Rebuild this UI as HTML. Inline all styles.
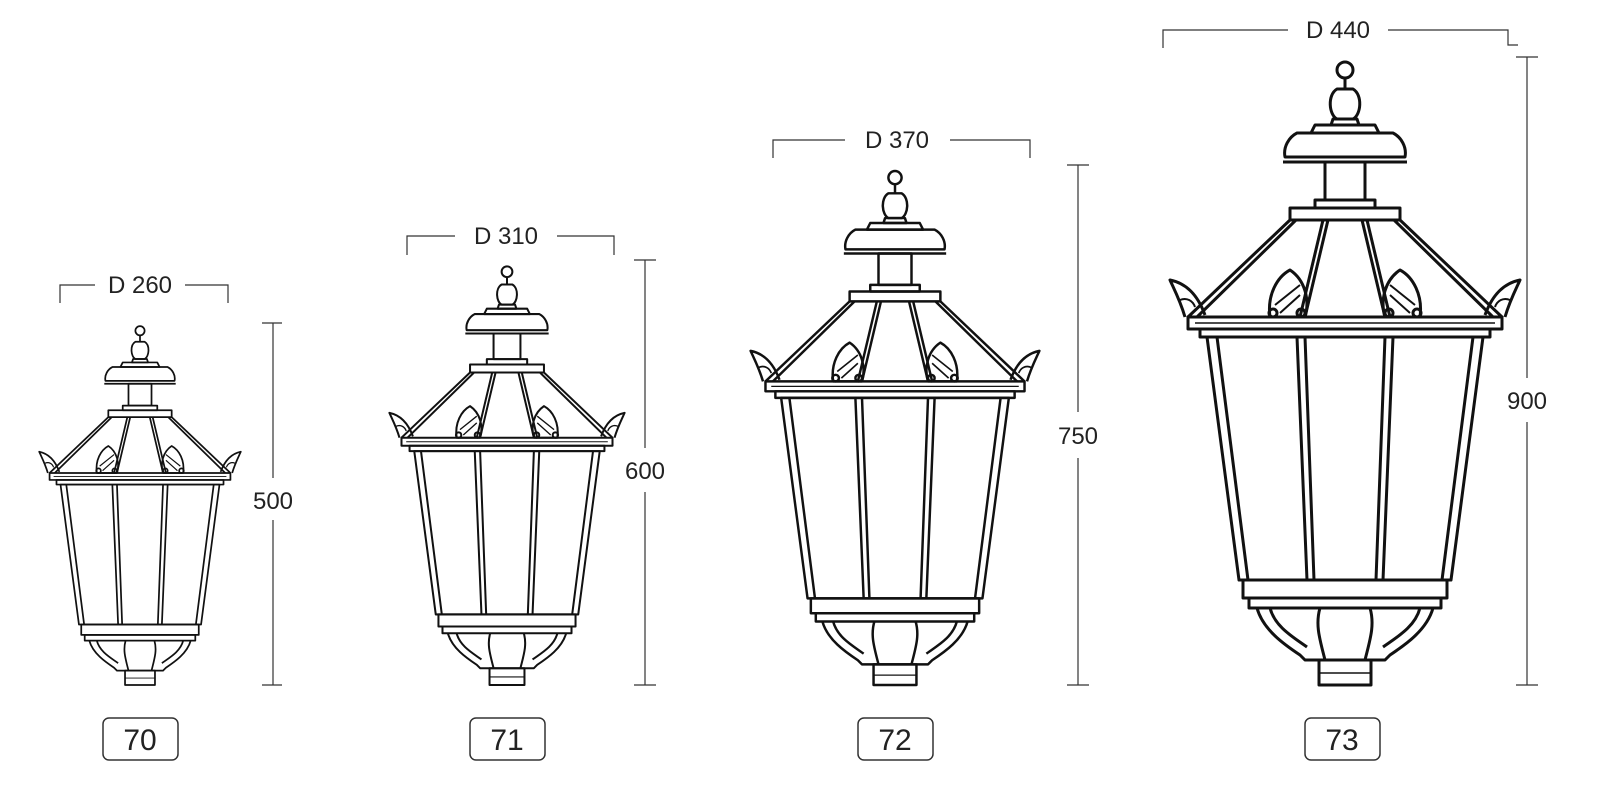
<!DOCTYPE html>
<html><head><meta charset="utf-8"><style>
html,body{margin:0;padding:0;background:#fff;width:1600px;height:800px;overflow:hidden}
text{font-family:"Liberation Sans",sans-serif;fill:#222}
</style></head><body>
<svg width="1600" height="800" viewBox="0 0 1600 800" xmlns="http://www.w3.org/2000/svg">
<defs>
<g id="lamp" fill="none" stroke="#111" stroke-width="3" stroke-linejoin="round">
  <circle cx="0" cy="-615" r="8"/>
  <line x1="0" y1="-607" x2="0" y2="-596"/>
  <path d="M-8,-596 C-18,-590 -16,-570 -8,-566 L8,-566 C16,-570 18,-590 8,-596 Z"/>
  <path d="M-12,-566 L12,-566 L14,-560 L-14,-560 Z"/>
  <path d="M-30,-560 L30,-560 L34,-552 L-34,-552 Z"/>
  <path d="M-48,-552 L48,-552 C56,-548 62,-538 60,-528 L-60,-528 C-62,-538 -56,-548 -48,-552 Z"/>
  <line x1="-62" y1="-523" x2="62" y2="-523"/>
  <rect x="-20" y="-523" width="40" height="38"/>
  <rect x="-30" y="-485" width="60" height="8"/>
  <rect x="-55" y="-477" width="110" height="12"/>
  <line x1="-55" y1="-465" x2="-157" y2="-368"/>
  <line x1="-49" y1="-465" x2="-148" y2="-368"/>
  <line x1="55" y1="-465" x2="157" y2="-368"/>
  <line x1="49" y1="-465" x2="148" y2="-368"/>
  <line x1="-22" y1="-465" x2="-45" y2="-368"/>
  <line x1="-17" y1="-465" x2="-40" y2="-368"/>
  <line x1="22" y1="-465" x2="45" y2="-368"/>
  <line x1="17" y1="-465" x2="40" y2="-368"/>
  <rect x="-157" y="-368" width="314" height="12"/>
  <line x1="-150" y1="-362" x2="150" y2="-362" stroke-width="1.5"/>
  <!-- corner ornaments -->
  <path d="M-160,-368 C-165,-385 -172,-398 -175,-405 C-160,-402 -148,-392 -140,-370"/>
  <path d="M-165,-385 C-158,-388 -152,-384 -150,-378" stroke-width="2"/>
  <path d="M160,-368 C165,-385 172,-398 175,-405 C160,-402 148,-392 140,-370"/>
  <path d="M165,-385 C158,-388 152,-384 150,-378" stroke-width="2"/>
  <!-- middle leaves -->
  <path d="M-75,-368 C-78,-390 -68,-408 -55,-415 C-40,-405 -35,-385 -40,-368 Z"/>
  <path d="M-70,-380 L-45,-400 M-65,-372 L-45,-390" stroke-width="2"/>
  <circle cx="-72" cy="-372" r="4"/><circle cx="-44" cy="-372" r="4"/>
  <path d="M75,-368 C78,-390 68,-408 55,-415 C40,-405 35,-385 40,-368 Z"/>
  <path d="M70,-380 L45,-400 M65,-372 L45,-390" stroke-width="2"/>
  <circle cx="72" cy="-372" r="4"/><circle cx="44" cy="-372" r="4"/>
  <!-- body -->
  <rect x="-145" y="-356" width="290" height="8"/>
  <path d="M-138,-348 L138,-348 L106,-105 L-106,-105 Z"/>
  <path d="M-128,-348 L-97,-105 M128,-348 L97,-105" />
  <path d="M-48,-348 L-38,-105 M-40,-348 L-31,-105 M48,-348 L38,-105 M40,-348 L31,-105"/>
  <!-- bottom -->
  <rect x="-102" y="-105" width="204" height="18"/>
  <rect x="-96" y="-87" width="192" height="10"/>
  <path d="M-88,-77 C-82,-55 -60,-40 -45,-30 L-40,-25 L40,-25 L45,-30 C60,-40 82,-55 88,-77"/>
  <path d="M-75,-77 C-70,-58 -52,-48 -38,-38 M75,-77 C70,-58 52,-48 38,-38"/>
  <path d="M-25,-77 C-30,-60 -25,-45 -20,-25 M25,-77 C30,-60 25,-45 20,-25"/>
  <rect x="-26" y="-25" width="52" height="25"/>
  <line x1="-26" y1="-12" x2="26" y2="-12" stroke-width="1.5"/>
</g>
</defs>
<use href="#lamp" transform="translate(140,685) scale(0.576)"/>
<use href="#lamp" transform="translate(507,685) scale(0.672)"/>
<use href="#lamp" transform="translate(895,685) scale(0.825)"/>
<use href="#lamp" transform="translate(1345,685) scale(1)"/>

<g stroke="#333" stroke-width="1.2" fill="none">
  <path d="M60,303 V285 H95 M185,285 H228 V303"/>
  <path d="M407,255 V236 H455 M557,236 H614 V255"/>
  <path d="M773,158 V140 H845 M950,140 H1030 V158"/>
  <path d="M1163,48 V30 H1288 M1388,30 H1508 V45 H1518"/>
  <path d="M262,323 H282 M273,323 V478 M273,520 V685 M262,685 H282"/>
  <path d="M634,260 H656 M645,260 V448 M645,492 V685 M634,685 H656"/>
  <path d="M1067,165 H1089 M1078,165 V412 M1078,458 V685 M1067,685 H1089"/>
  <path d="M1516,57 H1538 M1527,57 V378 M1527,422 V685 M1516,685 H1538"/>
</g>
<g font-size="24" text-anchor="middle">
  <text x="140" y="293">D 260</text>
  <text x="506" y="244">D 310</text>
  <text x="897" y="148">D 370</text>
  <text x="1338" y="38">D 440</text>
  <text x="273" y="509">500</text>
  <text x="645" y="479">600</text>
  <text x="1078" y="444">750</text>
  <text x="1527" y="409">900</text>
</g>
<g fill="none" stroke="#333" stroke-width="1.5">
  <rect x="103" y="718" width="75" height="42" rx="6"/>
  <rect x="470" y="718" width="75" height="42" rx="6"/>
  <rect x="858" y="718" width="75" height="42" rx="6"/>
  <rect x="1305" y="718" width="75" height="42" rx="6"/>
</g>
<g font-size="30" text-anchor="middle">
  <text x="140" y="750">70</text>
  <text x="507" y="750">71</text>
  <text x="895" y="750">72</text>
  <text x="1342" y="750">73</text>
</g>
</svg>
</body></html>
